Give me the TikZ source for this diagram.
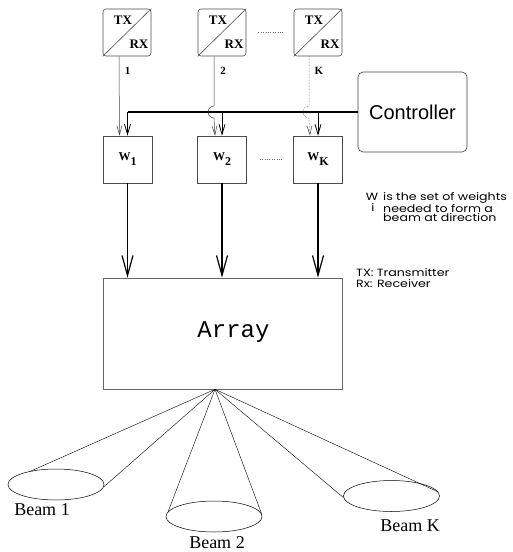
\documentclass[tikz,border=0pt]{standalone}
\usepackage{fontspec}
\usetikzlibrary{arrows.meta,shapes.geometric}
\newfontfamily\ctrlfont{Liberation Sans}
\newfontfamily\notefont[FakeStretch=1.2]{Poppins}
\newfontfamily\beamfont{Liberation Serif}
\newfontfamily\arrayfont{Liberation Mono}

\begin{document}
\begin{tikzpicture}[x=1pt,y=1pt,
    trx/.style={draw=black!70,line width=0.6pt,rounded corners=3pt,minimum width=48pt,minimum height=47pt,inner sep=0pt},
    wbox/.style={draw=black!70,line width=0.6pt,minimum width=49pt,minimum height=47pt,inner sep=0pt,font=\beamfont\bfseries\fontsize{12}{12}\selectfont},
    lbl/.style={inner sep=0pt,font=\beamfont\bfseries\fontsize{13}{13}\selectfont},
    num/.style={inner sep=0pt,font=\beamfont\bfseries\fontsize{11}{11}\selectfont},
    feed/.style={draw=black!75,line width=0.5pt,-{Straight Barb[length=9pt,width=5pt]}},
    bus/.style={line width=1.2pt},
    drop/.style={line width=0.8pt,-{Straight Barb[length=10pt,width=6pt]}},
    wout/.style={line width=1.8pt,-{Straight Barb[length=20pt,width=11pt,line width=1.2pt]}},
    note/.style={inner sep=0pt,align=left,font=\notefont\fontsize{10.5}{9.6}\selectfont},
    beam/.style={draw,ellipse,line width=0.5pt,minimum width=96pt,minimum height=31pt,inner sep=0pt},
    ray/.style={line width=0.4pt},
    beamlbl/.style={inner sep=0pt,font=\beamfont\fontsize{18}{18}\selectfont}]
  \useasboundingbox (0,0) rectangle (512,-552);

  % transceivers
  \node[trx] (tx1) at (127,-32.5) {};
  \node[trx] (tx2) at (222,-32.5) {};
  \node[trx] (txK) at (318,-32.5) {};
  \draw[black!70,line width=0.6pt] (tx1.south west) -- (tx1.north east);
  \draw[black!70,line width=0.6pt] (tx2.south west) -- (tx2.north east);
  \draw[black!70,line width=0.6pt] (txK.south west) -- (txK.north east);
  \node[lbl] (t1) at ([shift={(-4,12.5)}]tx1.center) {TX};
  \node[lbl] (r1) at ([shift={(12,-11.5)}]tx1.center) {RX};
  \node[lbl] (t2) at ([shift={(-4,12.5)}]tx2.center) {TX};
  \node[lbl] (r2) at ([shift={(12,-11.5)}]tx2.center) {RX};
  \node[lbl] (tK) at ([shift={(-4,12.5)}]txK.center) {TX};
  \node[lbl] (rK) at ([shift={(12,-11.5)}]txK.center) {RX};
  \draw[dotted,black!60] ([xshift=12pt]tx2.east) -- ([xshift=-11pt]txK.west);
  \node[num] (n1) at (127.5,-71) {1};
  \node[num] (n2) at (223,-71) {2};
  \node[num] (nK) at (319,-71) {K};

  % weights and controller
  \node[wbox] (w1) at (127.5,-159.5) {W\raisebox{-5pt}{1}};
  \node[wbox] (w2) at (222,-159.5) {W\raisebox{-5pt}{2}};
  \node[wbox] (wK) at (318,-159.5) {W\raisebox{-5pt}{K}};
  \draw[dotted,black!60] ([xshift=13pt]w2.east) -- ([xshift=-11pt]wK.west);
  \node[draw=black!75,line width=0.6pt,rounded corners=5pt,minimum width=109pt,minimum height=80pt,font=\ctrlfont\fontsize{20}{20}\selectfont] (ctrl) at (412.5,-112) {Controller};

  \draw[bus] (ctrl.west) -- (ctrl.west -| w1.north);
  \draw[drop] (ctrl.west -| w1.north) -- (w1.north);
  \draw[drop] (ctrl.west -| w2.north) -- (w2.north);
  \draw[drop] (ctrl.west -| wK.north) -- (wK.north);

  \draw[feed] ([xshift=-8pt]tx1.south) -- ([xshift=-8pt]w1.north);
  \draw[feed] ([xshift=-8pt]tx2.south) -- ([xshift=-8pt,yshift=6pt]tx2.south |- ctrl.west) arc[start angle=90,end angle=270,radius=6pt] -- ([xshift=-7pt]w2.north);
  \draw[feed,densely dotted] ([xshift=-9pt]txK.south) -- ([xshift=-9pt,yshift=6pt]txK.south |- ctrl.west) arc[start angle=90,end angle=270,radius=6pt] -- ([xshift=-8pt]wK.north);

  % array
  \node[draw=black!60,line width=0.6pt,minimum width=239pt,minimum height=111pt,inner sep=0pt] (arr) at (222.5,-333.5) {};
  \node[inner sep=0pt,font=\arrayfont\fontsize{24}{24}\selectfont] (arrtxt) at (233.5,-332) {Array};
  \draw[wout] (w1.south) -- (w1.south |- arr.north);
  \draw[wout] (w2.south) -- (w2.south |- arr.north);
  \draw[wout] (wK.south) -- (wK.south |- arr.north);

  % notes
  \node[note] (wi) at (372,-197) {W};
  \node[note] (wisub) at (373,-208) {i};
  \node[note,anchor=north west] (wtxt) at (383,-192) {is the set of weights\\needed to form a\\beam at direction};
  \node[note,anchor=north west,font=\notefont\fontsize{10.5}{11}\selectfont] (abbr) at (356,-268) {TX: Transmitter\\Rx: Receiver};

  % beams
  \coordinate (apex) at ([xshift=-7.5pt]arr.south);
  \node[beam] (b1) at (56,-484.5) {};
  \node[beam] (b2) at (214,-516.5) {};
  \node[beam] (bK) at (391.5,-496) {};
  \draw[ray] (apex) -- (b1.152);
  \draw[ray] (apex) -- (b1.-3);
  \draw[ray] (apex) -- (b2.174);
  \draw[ray] (apex) -- (b2.2);
  \draw[ray] (apex) -- (bK.182);
  \draw[ray] (apex) -- (bK.5);
  \node[beamlbl] (bl1) at (42,-510) {Beam 1};
  \node[beamlbl] (bl2) at (217,-543) {Beam 2};
  \node[beamlbl] (blK) at (410,-526) {Beam K};
\end{tikzpicture}
\end{document}
